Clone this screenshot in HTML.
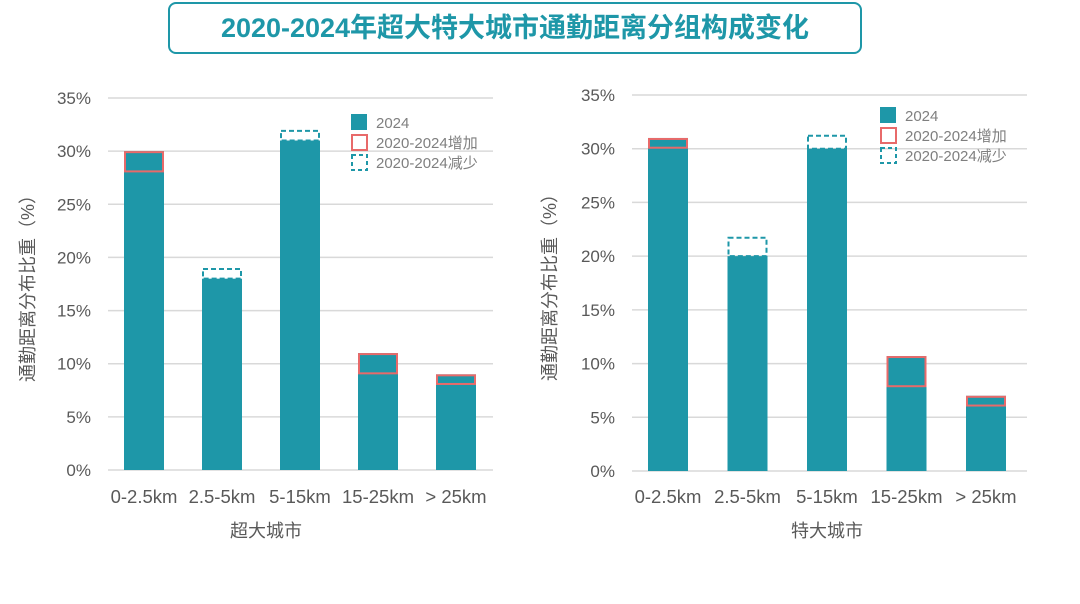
<!DOCTYPE html>
<html><head><meta charset="utf-8"><style>
body{margin:0;background:#fff;width:1080px;height:604px;overflow:hidden;font-family:"Liberation Sans","Noto Sans CJK SC",sans-serif}
#title{position:absolute;left:168px;top:2px;width:694px;height:52px;border:2px solid #1e97a8;border-radius:8px;box-sizing:border-box;color:#1e97a8;font-weight:bold;font-size:27px;line-height:48px;text-align:center;font-family:"Liberation Sans","Noto Sans CJK SC",sans-serif}
</style></head><body>
<div id="title">2020-2024年超大特大城市通勤距离分组构成变化</div>
<svg id="svg" width="1080" height="604" style="position:absolute;left:0;top:0;z-index:-1"></svg>
<script>
const categories=["0-2.5km","2.5-5km","5-15km","15-25km","> 25km"];
const yTicks=[0,5,10,15,20,25,30,35];
const leftV2024=[30,18,31,11,9];
const leftV2020=[28,19,32,9,8];
const rightV2024=[31,20,30,10.7,7];
const rightV2020=[30,21.8,31.3,7.8,6];
const leftTitle="超大城市", rightTitle="特大城市";
const svg=document.getElementById('svg');
const NS="http://www.w3.org/2000/svg";
function mk(t,a,txt){const e=document.createElementNS(NS,t);for(const k in a)e.setAttribute(k,a[k]);if(txt!=null)e.textContent=txt;svg.appendChild(e);return e;}
function chart(cfg,v24,v20,xt){
  const y=v=>cfg.y0-(cfg.y0-cfg.y35)*v/35;
  const x=i=>cfg.c0+cfg.step*i;
  yTicks.forEach(t=>{
    const l=mk('line',{x1:cfg.x0,x2:cfg.x1,y1:y(t),y2:y(t),stroke:'#d9d9d9','stroke-width':1.5});
    
    const tx=mk('text',{x:cfg.x0-17,y:y(t)+6,'text-anchor':'end','font-size':17,fill:'#595959'},t+'%');
    
  });
  categories.forEach((c,i)=>{
    const bw=40,bx=x(i)-bw/2;
    const b=mk('rect',{x:bx,y:y(v24[i]),width:bw,height:y(0)-y(v24[i]),fill:'#1e97a8'});
    
    if(v20[i]<v24[i]){
      const r=mk('rect',{x:bx+1,y:y(v24[i])+1,width:bw-2,height:y(v20[i])-y(v24[i])-2,fill:'none',stroke:'#e86a6a','stroke-width':2});
      
    }else if(v20[i]>v24[i]){
      const r=mk('rect',{x:bx+1,y:y(v20[i])+1,width:bw-2,height:y(v24[i])-y(v20[i])-1,fill:'none',stroke:'#1e97a8','stroke-width':2,'stroke-dasharray':'5,3'});
      
    }
    const tx=mk('text',{x:x(i),y:503,'text-anchor':'middle','font-size':18.5,fill:'#595959'},c);
    
  });
  const xtl=mk('text',{x:cfg.xt,y:537,'text-anchor':'middle','font-size':18,fill:'#595959'},xt);
  
  const yt=mk('text',{x:0,y:0,'text-anchor':'middle','font-size':18,fill:'#595959',transform:`translate(${cfg.yt},${(cfg.y0+cfg.y35)/2}) rotate(-90)`},'通勤距离分布比重（%）');
  
  const L=cfg.lx,T=cfg.ly;
  const s1=mk('rect',{x:L,y:T,width:16,height:16,fill:'#1e97a8'});
  const s2=mk('rect',{x:L+1,y:T+21,width:15,height:15,fill:'none',stroke:'#e86a6a','stroke-width':2});
  const s3=mk('rect',{x:L+1,y:T+41,width:15,height:15,fill:'none',stroke:'#1e97a8','stroke-width':2,'stroke-dasharray':'4,3'});
  ["2024","2020-2024增加","2020-2024减少"].forEach((t,k)=>{
    const e=mk('text',{x:L+25,y:T+14+k*20,'font-size':15,fill:'#7f7f7f'},t);
    
  });
}
chart({x0:108,x1:493,y0:470,y35:98,c0:144,step:78,xt:266,yt:34,lx:351,ly:114},leftV2024,leftV2020,leftTitle);
chart({x0:632,x1:1027,y0:471,y35:95,c0:668,step:79.5,xt:827,yt:556,lx:880,ly:107},rightV2024,rightV2020,rightTitle);
</script>
</body></html>
